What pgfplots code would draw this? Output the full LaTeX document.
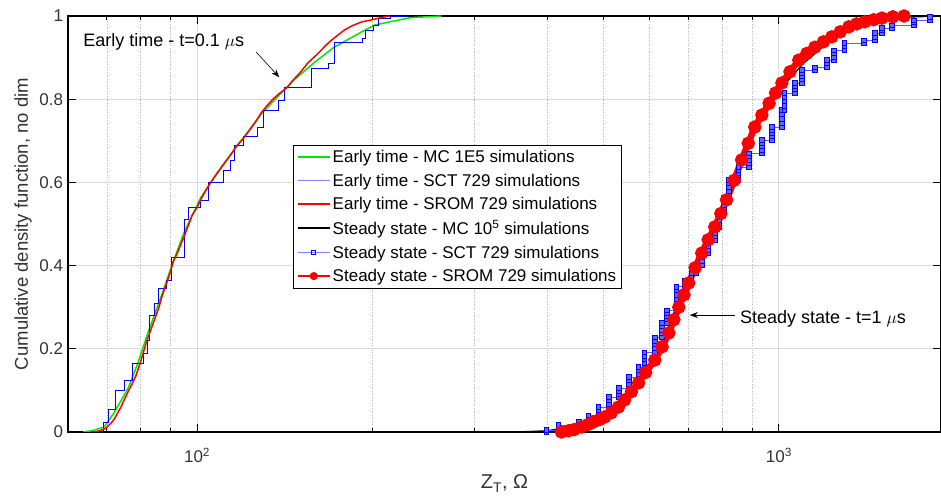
\documentclass[border=0pt]{standalone}
\usepackage{fontspec}
\setmainfont{Liberation Sans}
\usepackage{pgfplots}
\pgfplotsset{compat=1.18}
\usetikzlibrary{arrows.meta}
\definecolor{mcgreen}{RGB}{0,230,0}

\begin{document}
\begin{tikzpicture}
\begin{axis}[
    scale only axis, width=873pt, height=416pt,
    xmode=log, xmin=60, xmax=1900, ymin=0, ymax=1,
    xtick={100,1000}, xticklabels={10\textsuperscript{2},10\textsuperscript{3}},
    minor xtick={70,80,90,200,300,400,500,600,700,800,900},
    ytick={0,0.2,0.4,0.6,0.8,1}, yticklabels={0,0.2,0.4,0.6,0.8,1},
    xmajorgrids, ymajorgrids, xminorgrids,
    major grid style={gray!28, line width=1pt},
    minor grid style={gray!55, dotted, line width=0.8pt},
    tick align=inside, major tick length=8pt, minor tick length=4pt,
    tick style={black, line width=1pt},
    axis line style={black, line width=1.3pt},
    tick label style={font=\fontsize{17}{20}\selectfont, text=black!80},
    xticklabel style={anchor=base, yshift=-31pt},
    yticklabel style={anchor=east, xshift=-1.5pt},
    xlabel={Z\textsubscript{T}, Ω},
    ylabel={Cumulative density function, no dim},
    xlabel style={at={(axis description cs:0.5,-0.137)}, anchor=base, font=\fontsize{20}{24}\selectfont, text=black!80},
    ylabel style={at={(axis description cs:-0.0515,0.5)}, anchor=center, rotate=0, font=\fontsize{18.5}{22}\selectfont, text=black!80},
    legend style={at={(axis description cs:0.258,0.690)}, anchor=north west,
        draw=black, line width=1pt, font=\fontsize{17}{20}\selectfont, inner xsep=3pt, inner ysep=3pt,
        row sep=5.5pt},
    legend cell align=left,
    legend image code/.code={\draw[mark repeat=2,mark phase=2,#1] plot coordinates {(0pt,0pt)(16pt,0pt)(32pt,0pt)};},
]
% early time, MC
\addplot[forget plot, mcgreen, line width=1.5pt] coordinates {
(63.7,0.000)(66.0,0.003)(69.2,0.012)(71.9,0.045)(74.0,0.075)(76.1,0.105)
(79.1,0.165)(82.4,0.240)(86.7,0.325)(90.2,0.395)(95.0,0.480)(101.6,0.565)
(110,0.637)(119,0.700)(129,0.765)(138,0.808)(147,0.847)(159,0.888)
(172,0.925)(192,0.962)(201.6,0.978)(218,0.988)(233,0.996)(263,1.000)};
% early time, SCT
\addplot[forget plot, blue, line width=0.7pt] coordinates {
(67,0)(69,0)(69,0.022)(70.3,0.022)(70.3,0.055)(72.5,0.055)(72.5,0.10)(75,0.10)
(75,0.125)(77.5,0.125)(77.5,0.165)(81,0.165)(81,0.19)(82,0.19)(82,0.22)
(82.7,0.22)(82.7,0.28)(84.5,0.28)(84.5,0.31)(85.7,0.31)(85.7,0.345)(88.4,0.345)
(88.4,0.365)(90.2,0.365)(90.2,0.42)(95,0.42)(95,0.51)(96.5,0.51)(96.5,0.54)
(101.5,0.54)(101.5,0.558)(104.5,0.558)(104.5,0.60)(111,0.60)(111,0.63)
(114,0.63)(114,0.654)(116,0.654)(116,0.69)(120,0.69)(120,0.71)(127,0.71)
(127,0.733)(130,0.733)(130,0.774)(138,0.774)(138,0.798)(141,0.798)(141,0.829)
(157,0.829)(157,0.875)(168,0.875)(168,0.887)(172,0.887)(172,0.937)(192,0.937)
(192,0.947)(195,0.947)(195,0.966)(201,0.966)(201,0.978)(205,0.978)(205,0.995)
(215,0.995)(215,1)(230,1)};
% early time, SROM
\addplot[forget plot, red, line width=1.5pt] coordinates {
(66.5,0)(68,0.003)(69.5,0.008)(71,0.02)(72,0.03)(73,0.045)(74,0.06)(75,0.078)
(76,0.095)(77.3,0.115)(78.5,0.135)(80,0.17)(81,0.195)(82,0.22)(83,0.24)
(84,0.26)(85,0.28)(86,0.30)(87,0.325)(88,0.345)(89,0.365)(90,0.385)(91,0.41)
(92.5,0.43)(94,0.455)(95,0.47)(96.5,0.495)(98,0.52)(100,0.54)(101.6,0.56)
(103,0.575)(105,0.595)(107,0.612)(110,0.635)(112,0.65)(115,0.672)(117,0.688)
(120,0.705)(123,0.725)(126,0.745)(129,0.768)(132,0.785)(135,0.8)(138,0.812)
(141,0.822)(143,0.829)(146,0.845)(150,0.862)(155,0.887)(160,0.905)(164,0.92)
(168,0.935)(172,0.947)(175,0.955)(179,0.966)(185,0.977)(192,0.986)(200,0.991)
(207,0.996)(214,1)};
% steady state, MC
\addplot[forget plot, black, line width=1.2pt] coordinates {
(351,0)(400,0.003)(450,0.015)(500,0.04)(550,0.085)(600,0.155)(650,0.245)
(700,0.355)(750,0.46)(800,0.545)(850,0.63)(900,0.71)(950,0.77)(1000,0.82)
(1100,0.885)(1200,0.93)(1300,0.96)(1400,0.978)(1500,0.99)(1650,0.997)(1900,1.0)};
% steady state, SCT
\addplot[forget plot, blue!65, line width=0.7pt, mark=square*, mark size=2.2pt,
    mark options={draw=blue, fill=blue!60, line width=0.8pt}] coordinates {
(399,0.000)(399,0.005)
(418,0.005)(418,0.011)(418,0.017)
(453,0.017)(453,0.024)
(471,0.024)(471,0.032)(471,0.040)
(490,0.040)(490,0.047)(490,0.053)(490,0.060)
(510,0.060)(510,0.068)(510,0.076)(510,0.084)
(531,0.084)(531,0.091)(531,0.099)(531,0.106)
(552,0.106)(552,0.115)(552,0.124)(552,0.132)
(574,0.132)(574,0.140)(574,0.148)(574,0.156)
(588,0.156)(588,0.165)(588,0.174)(588,0.183)(588,0.192)
(612,0.192)(612,0.201)(612,0.210)(612,0.219)(612,0.228)
(629,0.228)(629,0.237)(629,0.245)(629,0.254)(629,0.262)
(642,0.262)(642,0.270)(642,0.278)(642,0.286)(642,0.293)
(667,0.293)(667,0.302)(667,0.311)(667,0.320)(667,0.330)(667,0.340)(667,0.349)
(689,0.349)(689,0.357)(689,0.365)
(708,0.365)(708,0.374)(708,0.382)
(720,0.382)(720,0.391)(720,0.400)
(737,0.400)(737,0.410)(737,0.420)(737,0.430)
(756,0.430)(756,0.438)(756,0.446)(756,0.454)(756,0.462)
(776,0.462)(776,0.470)(776,0.478)(776,0.486)(776,0.493)
(790,0.493)(790,0.501)(790,0.509)(790,0.517)(790,0.525)
(805,0.525)(805,0.534)(805,0.544)(805,0.553)(805,0.5625)
(820,0.5625)(820,0.571)(820,0.580)(820,0.589)(820,0.598)(820,0.606)
(853,0.606)(853,0.614)(853,0.622)(853,0.630)(853,0.637)
(888,0.637)(888,0.645)(888,0.654)(888,0.662)(888,0.670)
(935,0.670)(935,0.678)(935,0.686)(935,0.694)(935,0.702)
(973,0.702)(973,0.710)(973,0.718)(973,0.726)(973,0.733)
(1012,0.733)(1012,0.743)(1012,0.753)(1012,0.764)(1012,0.774)
(1023,0.774)(1023,0.784)(1023,0.794)(1023,0.805)(1023,0.815)
(1065,0.815)(1065,0.823)(1065,0.831)(1065,0.839)
(1096,0.839)(1096,0.847)(1096,0.855)(1096,0.862)(1096,0.870)
(1153,0.870)(1153,0.877)
(1210,0.877)(1210,0.886)(1210,0.894)
(1244,0.894)(1244,0.902)(1244,0.910)(1244,0.918)
(1295,0.918)(1295,0.927)(1295,0.935)
(1400,0.935)(1400,0.942)
(1463,0.942)(1463,0.950)(1463,0.959)
(1504,0.959)(1504,0.965)(1504,0.971)
(1565,0.971)(1565,0.978)
(1707,0.978)(1707,0.984)(1707,0.990)
(1819,0.990)(1819,0.998)};
% steady state, SROM
\addplot[forget plot, red, line width=6.5pt, mark=*, mark size=3.3pt] coordinates {
(423,0.000)(435,0.003)(445,0.006)(458,0.012)(470,0.018)(480,0.024)(492,0.030)
(502,0.036)(515,0.046)(530,0.060)(543,0.077)(558,0.097)(574,0.118)(590,0.143)
(612,0.173)(630,0.205)(647,0.238)(660,0.270)(673,0.300)(687,0.330)(700,0.358)
(718,0.395)(737,0.430)(756,0.462)(776,0.493)(795,0.525)(813,0.558)(838,0.605)
(863,0.654)(886,0.694)(909,0.733)(935,0.762)(962,0.790)(987,0.815)(1012,0.839)
(1045,0.866)(1082,0.894)(1117,0.910)(1153,0.925)(1193,0.938)(1233,0.950)
(1275,0.962)(1319,0.974)(1360,0.981)(1405,0.986)(1455,0.991)(1504,0.995)
(1570,0.998)(1641,1.000)};

\addlegendimage{mcgreen, line width=2pt}
\addlegendentry{Early time - MC 1E5 simulations}
\addlegendimage{blue!50, line width=1pt}
\addlegendentry{Early time - SCT 729 simulations}
\addlegendimage{red, line width=2pt}
\addlegendentry{Early time - SROM 729 simulations}
\addlegendimage{black, line width=2pt}
\addlegendentry{Steady state - MC 10\textsuperscript{5} simulations}
\addlegendimage{blue!50, line width=1pt, mark=square, mark size=2pt, mark options={blue}}
\addlegendentry{Steady state - SCT 729 simulations}
\addlegendimage{red, line width=2pt, mark=*, mark size=3pt}
\addlegendentry{Steady state - SROM 729 simulations}

\node[anchor=base west, inner sep=0pt, font=\fontsize{18}{21}\selectfont] at (axis cs:63.7,0.9255) {Early time - t=0.1 $\mu$s};
\draw[-{Stealth[length=8pt, width=6pt]}, line width=0.6pt] (axis cs:126.3,0.9135) -- (axis cs:138.4,0.853);
\node[anchor=base west, inner sep=0pt, font=\fontsize{18}{21}\selectfont] at (axis cs:857,0.262) {Steady state - t=1 $\mu$s};
\draw[-{Stealth[length=8pt, width=6pt]}, line width=0.6pt] (axis cs:839,0.281) -- (axis cs:703,0.281);
\end{axis}
\pgfresetboundingbox
\useasboundingbox ([shift={(-68pt,-65pt)}]current axis.south west) rectangle ([shift={(0pt,16pt)}]current axis.north east);
\end{tikzpicture}
\end{document}
